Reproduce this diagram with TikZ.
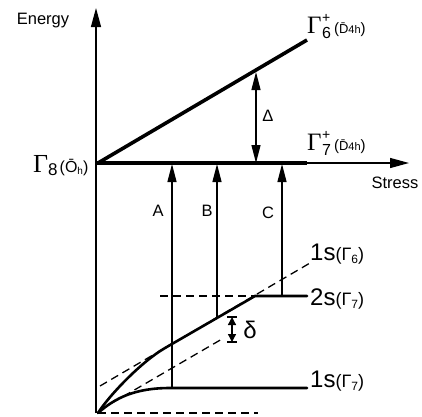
\documentclass[tikz,border=0pt]{standalone}
\usepackage{fontspec}
\setmainfont{Liberation Sans}
\newfontfamily\gfont{Liberation Serif}
\usetikzlibrary{arrows.meta}
\tikzset{
  thinln/.style={line width=1.3pt},
  thickln/.style={line width=3.6pt},
  curveln/.style={line width=2.6pt, line cap=round},
  dashln/.style={line width=1.3pt, dash pattern=on 8pt off 5pt},
  bigarr/.style={-{Triangle[length=19pt,width=10pt]}},
  midarr/.style={-{Triangle[length=18pt,width=9pt]}},
  smallarr/.style={{Triangle[length=8pt,width=8pt]}-{Triangle[length=8pt,width=8pt]}},
  lbl/.style={font=\fontsize{16.5}{18}\selectfont, inner sep=0pt},
  lev/.style={inner sep=0pt, anchor=base west},
}
\newcommand\GamLab[2]{{\gfont\fontsize{25}{25}\selectfont Γ}\kern0.5pt\rlap{\raisebox{11pt}{\fontsize{14}{14}\selectfont #1}}\raisebox{-5pt}{\fontsize{16}{16}\selectfont #2}\kern3pt{\fontsize{15}{15}\selectfont(\raisebox{0pt}{\fontsize{13}{13}\selectfont\=D}{\fontsize{11}{11}\selectfont 4h})}}
\newcommand\LevLab[2]{{\fontsize{24}{24}\selectfont #1}{\fontsize{18}{18}\selectfont(Γ\raisebox{-3pt}{\fontsize{12}{12}\selectfont #2})}}
\begin{document}
\begin{tikzpicture}[x=1pt,y=-1pt]
\useasboundingbox (0,0) rectangle (422,416);
% key points
\coordinate (O) at (96,413);
\coordinate (Etop) at (96,8);
\coordinate (G8) at (96,163);
\coordinate (Send) at (409,163);
\coordinate (G7end) at (307,163);
\coordinate (G6start) at (98,163);
\coordinate (G6end) at (307,40);
\coordinate (D0) at (256,163);
\coordinate (D1) at (256,72);
% dashed lines
\coordinate (bd0) at (98,413);
\coordinate (bd1) at (258,413);
\coordinate (ud0) at (100,386);
\coordinate (ud1) at (310,263);
\coordinate (ld0) at (112,403);
\coordinate (ld1) at (222,339);
\coordinate (hd0) at (160,296);
\coordinate (hd1) at (255,296);
% curves
\coordinate (c0) at (98,413);
\coordinate (m2) at (165,348);
\coordinate (k2) at (255,296);
\coordinate (e2) at (307,296);
\coordinate (m1) at (170,388);
\coordinate (e1) at (307,388);
% transitions
\coordinate (A0) at (172,388);
\coordinate (A1) at (172,164);
\coordinate (B0) at (217,317);
\coordinate (B1) at (217,164);
\coordinate (C0) at (282,296);
\coordinate (C1) at (282,164);
% delta
\coordinate (dt) at (232,317);
\coordinate (db) at (232,342);
\coordinate (dtl) at (227,317);
\coordinate (dtr) at (237,317);
\coordinate (dbl) at (227,342);
\coordinate (dbr) at (237,342);

% dashed
\draw[dashln] (bd0) -- (bd1);
\draw[dashln] (ud0) -- (ud1);
\draw[dashln] (ld0) -- (ld1);
\draw[dashln] (hd0) -- (hd1);

% axes
\draw[thinln, bigarr] (O) -- (Etop);
\draw[thinln, bigarr] (G8) -- (Send);
\draw[thickln] (G8) -- (G7end);
\draw[thickln] (G6start) -- (G6end);

% level curves
\draw[curveln] (c0) .. controls (108,397) and (140,362.6) .. (m2) -- (k2) -- (e2);
\draw[curveln] (c0) .. controls (115,398) and (135,388) .. (m1) -- (e1);

% transitions
\draw[thinln, midarr] (A0) -- (A1);
\draw[thinln, midarr] (B0) -- (B1);
\draw[thinln, midarr] (C0) -- (C1);
\draw[thinln, {Triangle[length=18pt,width=9pt]}-{Triangle[length=18pt,width=9pt]}] (D0) -- (D1);

% delta
\draw[thinln, smallarr] (dt) -- (db);
\draw[line width=1.6pt] (dtl) -- (dtr);
\draw[line width=1.6pt] (dbl) -- (dbr);

% labels
\node[lbl] (energy) at (43,21) {Energy};
\node[lbl] (stress) at (395,183) {Stress};
\node[lbl] (la) at (158,211) {A};
\node[lbl] (lb) at (207,211) {B};
\node[lbl] (lc) at (268,213) {C};
\node[lbl] (lD) at (268,116) {Δ};
\node[inner sep=0pt, font=\fontsize{24}{24}\selectfont] (ld) at (250,330) {δ};
\node[lev] (g6) at (307,33) {\GamLab{+}{6}};
\node[lev] (g7) at (307,150) {\GamLab{+}{7}};
\node[lev] (g8) at (33,172) {{\gfont\fontsize{26}{26}\selectfont Γ}\raisebox{-3pt}{\fontsize{17}{17}\selectfont 8}\kern2pt{\fontsize{16}{16}\selectfont(\=O\raisebox{-2pt}{\fontsize{10}{10}\selectfont h})}};
\node[lev] (s6) at (310,260) {\LevLab{1s}{6}};
\node[lev] (s27) at (310,305) {\LevLab{2s}{7}};
\node[lev] (s17) at (310,387) {\LevLab{1s}{7}};
\end{tikzpicture}
\end{document}
